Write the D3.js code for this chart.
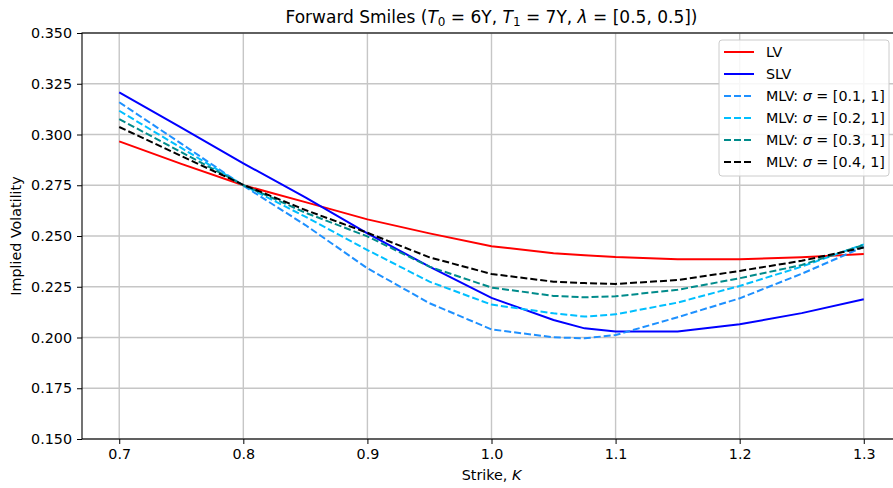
<!DOCTYPE html>
<html><head><meta charset="utf-8">
<script src="https://cdn.jsdelivr.net/npm/d3@7"></script>
<style>body{margin:0;background:#fff}svg{font-family:"DejaVu Sans",sans-serif}</style>
</head><body>
<svg id="c" width="893" height="488"></svg>
<script>
const strikes = [0.7, 0.75, 0.8, 0.85, 0.9, 0.95, 1.0, 1.05, 1.075, 1.1, 1.15, 1.2, 1.25, 1.3];
const lv     = [0.2966, 0.2855, 0.2750, 0.2667, 0.2582, 0.2513, 0.2450, 0.2415, 0.2405, 0.2396, 0.2386, 0.2385, 0.2395, 0.2411];
const slv    = [0.3208, 0.3034, 0.2858, 0.2690, 0.2513, 0.2349, 0.2195, 0.2086, 0.2045, 0.2029, 0.2029, 0.2065, 0.2120, 0.2188];
const mlv01  = [0.3159, 0.2955, 0.2748, 0.2554, 0.2341, 0.2169, 0.2040, 0.2001, 0.1996, 0.2012, 0.2100, 0.2193, 0.2314, 0.2447];
const mlv02  = [0.3117, 0.2934, 0.2750, 0.2595, 0.2431, 0.2275, 0.2162, 0.2119, 0.2103, 0.2114, 0.2172, 0.2254, 0.2349, 0.2459];
const mlv03  = [0.3076, 0.2913, 0.2751, 0.2615, 0.2498, 0.2349, 0.2246, 0.2205, 0.2198, 0.2203, 0.2235, 0.2292, 0.2357, 0.2456];
const mlv04  = [0.3037, 0.2894, 0.2752, 0.2628, 0.2516, 0.2395, 0.2313, 0.2275, 0.2268, 0.2264, 0.2283, 0.2328, 0.2378, 0.2443];
const xTicks = [0.7, 0.8, 0.9, 1.0, 1.1, 1.2, 1.3];
const yTicks = [0.150, 0.175, 0.200, 0.225, 0.250, 0.275, 0.300, 0.325, 0.350];

const series = [
  {name: "LV", values: lv, color: "#ff0000", dash: null},
  {name: "SLV", values: slv, color: "#0000ff", dash: null},
  {name: "MLV", sig: "[0.1, 1]", values: mlv01, color: "#1e90ff", dash: "7,3"},
  {name: "MLV", sig: "[0.2, 1]", values: mlv02, color: "#00bfff", dash: "7,3"},
  {name: "MLV", sig: "[0.3, 1]", values: mlv03, color: "#008b8b", dash: "7,3"},
  {name: "MLV", sig: "[0.4, 1]", values: mlv04, color: "#000000", dash: "7,3"}
];

const FS = 14.3;
const L = 82, R = 901, T = 33, B = 439;
const svg = d3.select("#c");
const x = d3.scaleLinear().domain([0.67, 1.33]).range([L, R]);
const y = d3.scaleLinear().domain([0.15, 0.35]).range([B, T]);

// grid
const g = svg.append("g");
g.selectAll(".gx").data(xTicks).enter().append("line")
  .attr("x1", d => x(d)).attr("x2", d => x(d)).attr("y1", T).attr("y2", B)
  .attr("stroke", "#c6c6c6").attr("stroke-width", 1.4);
g.selectAll(".gy").data(yTicks).enter().append("line")
  .attr("x1", L).attr("x2", R).attr("y1", d => y(d)).attr("y2", d => y(d))
  .attr("stroke", "#c6c6c6").attr("stroke-width", 1.4);

// lines
const line = d3.line().x((d, i) => x(strikes[i])).y(d => y(d));
svg.append("clipPath").attr("id", "clp").append("rect")
  .attr("x", L).attr("y", T).attr("width", R - L).attr("height", B - T);
svg.append("g").attr("clip-path", "url(#clp)").selectAll("path").data(series).enter().append("path")
  .attr("d", d => line(d.values)).attr("fill", "none")
  .attr("stroke", d => d.color).attr("stroke-width", 2)
  .attr("stroke-dasharray", d => d.dash);

// axes
const xAxis = d3.axisBottom(x).tickValues(xTicks).tickFormat(d3.format(".1f")).tickSize(5).tickPadding(5);
const yAxis = d3.axisLeft(y).tickValues(yTicks).tickFormat(d3.format(".3f")).tickSize(5).tickPadding(5);
const gx = svg.append("g").attr("transform", `translate(0,${B})`).call(xAxis);
const gy = svg.append("g").attr("transform", `translate(${L},0)`).call(yAxis);
[gx, gy].forEach(a => {
  a.select(".domain").remove();
  a.selectAll("line").attr("stroke", "#000").attr("stroke-width", 1);
  a.selectAll("text").attr("font-size", FS).attr("fill", "#000").attr("font-family", "DejaVu Sans");
});
// spines
svg.append("rect").attr("x", L).attr("y", T).attr("width", R - L).attr("height", B - T)
  .attr("fill", "none").attr("stroke", "#000").attr("stroke-width", 1.1);

// title
const title = svg.append("text").attr("x", (L + R) / 2).attr("y", 23)
  .attr("text-anchor", "middle").attr("font-size", 17).attr("fill", "#000");
title.append("tspan").text("Forward Smiles (");
title.append("tspan").attr("font-style", "italic").text("T");
title.append("tspan").attr("font-size", 12).attr("dy", 3).text("0");
title.append("tspan").attr("dy", -3).text(" = 6Y, ");
title.append("tspan").attr("font-style", "italic").text("T");
title.append("tspan").attr("font-size", 12).attr("dy", 3).text("1");
title.append("tspan").attr("dy", -3).text(" = 7Y, ");
title.append("tspan").attr("font-style", "italic").text("λ");
title.append("tspan").text(" = [0.5, 0.5])");

// axis labels
const xl = svg.append("text").attr("x", (L + R) / 2).attr("y", 480).attr("text-anchor", "middle")
  .attr("font-size", FS).attr("fill", "#000");
xl.append("tspan").text("Strike, ");
xl.append("tspan").attr("font-style", "italic").text("K");
svg.append("text").attr("transform", `translate(21,${(T + B) / 2}) rotate(-90)`)
  .attr("text-anchor", "middle").attr("font-size", FS).attr("fill", "#000").text("Implied Volatility");

// legend
const lg = svg.append("g").attr("transform", "translate(719,40)");
lg.append("rect").attr("width", 170).attr("height", 136).attr("rx", 3)
  .attr("fill", "#fff").attr("fill-opacity", 0.85).attr("stroke", "#cccccc").attr("stroke-width", 1);
series.forEach((s, i) => {
  const yy = 12 + i * 22;
  lg.append("line").attr("x1", 5).attr("x2", 35).attr("y1", yy).attr("y2", yy)
    .attr("stroke", s.color).attr("stroke-width", 2).attr("stroke-dasharray", s.dash);
  const t = lg.append("text").attr("x", 47).attr("y", yy + 5).attr("font-size", FS).attr("fill", "#000");
  if (s.sig) {
    t.append("tspan").text("MLV: ");
    t.append("tspan").attr("font-style", "italic").text("σ");
    t.append("tspan").text(" = " + s.sig);
  } else {
    t.text(s.name);
  }
});
</script>
</body></html>
